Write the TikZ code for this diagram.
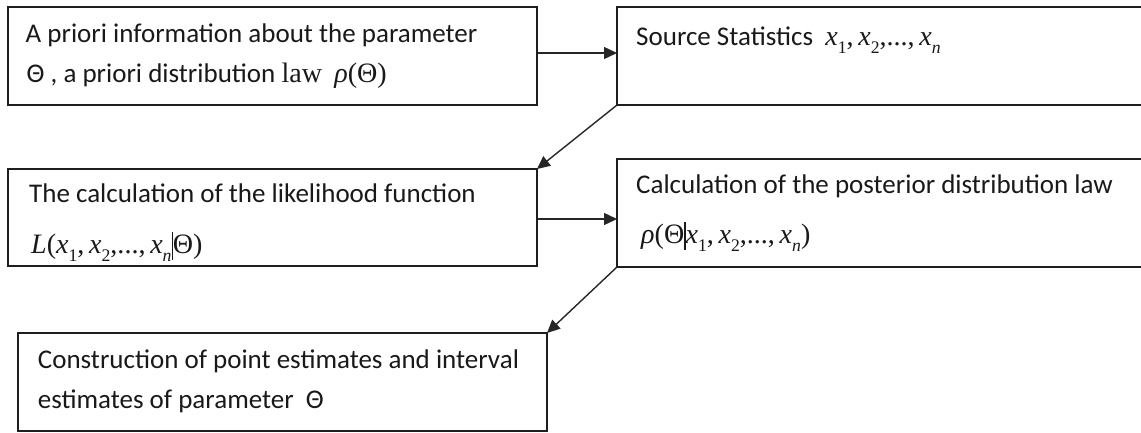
\documentclass[tikz,border=0pt]{standalone}
\usepackage{fontspec}
\setmainfont{Carlito}
\newfontfamily\tms[Scale=1.04]{Liberation Serif}
\usetikzlibrary{arrows.meta}
\newcommand\mi[1]{{\tms\itshape #1}}
\newcommand\mr[1]{{\tms #1}}
\newcommand\sbs[1]{\raisebox{-0.3em}{\fontsize{17}{17}\selectfont\tms #1}}
\newcommand\xlist{\mi{x}\sbs{1}\mr{,\,}\mi{x}\sbs{2}\mr{,...,\,}\mi{x}\sbs{\itshape n}}
\newcommand\cbar{\rule[-7pt]{1.3pt}{28pt}}
\begin{document}
\begin{tikzpicture}[x=1pt,y=-1pt,
  box/.style={draw=black!88, line width=1.4pt, rectangle, inner sep=0pt, outer sep=0pt, anchor=north west},
  lbl/.style={anchor=base west, inner sep=0pt, font=\fontsize{27}{27}\selectfont, text=black!90},
  conn/.style={draw=black!85, line width=1.4pt, -{Triangle[length=13pt,width=12pt]}}]
\useasboundingbox (0,0) rectangle (1141,432);
\clip (0,0) rectangle (1141,432);
% boxes
\node[box, minimum width=529pt, minimum height=98pt] (A) at (8,7) {};
\node[box, minimum width=545pt, minimum height=98pt] (B) at (617,7) {};
\node[box, minimum width=529pt, minimum height=97pt] (C) at (8,169) {};
\node[box, minimum width=545pt, minimum height=108pt] (D) at (617,159) {};
\node[box, minimum width=529pt, minimum height=98pt] (E) at (18,333) {};
% texts
\node[lbl] (tA1) at (25.5,42) {A priori information about the parameter};
\node[lbl] (tA2) at (26.5,82) {Θ , a priori distribution \mr{law} \ \mi{ρ}\mr{(Θ)}};
\node[lbl] (tB) at (636,45) {Source Statistics \ \xlist};
\node[lbl] (tC1) at (29,202) {The calculation of the likelihood function};
\node[lbl] (tC2) at (31,253) {\mi{L}\mr{(}\xlist\cbar\mr{Θ)}};
\node[lbl] (tD1) at (636,193) {Calculation of the posterior distribution law};
\node[lbl] (tD2) at (641,243) {\mi{ρ}\mr{(Θ}\cbar\xlist\mr{)}};
\node[lbl] (tE1) at (37.7,368) {Construction of point estimates and interval};
\node[lbl] (tE2) at (37.7,408) {estimates of parameter \ Θ};
% connectors
\draw[conn] ([yshift=3pt]A.east) -- ([yshift=3pt]B.west);
\draw[conn] (B.south west) -- (C.north east);
\draw[conn] ([yshift=-1.5pt]C.east) -- ([yshift=-1.5pt]C.east -| D.west);
\draw[conn] (D.south west) -- (E.north east);
\end{tikzpicture}
\end{document}
